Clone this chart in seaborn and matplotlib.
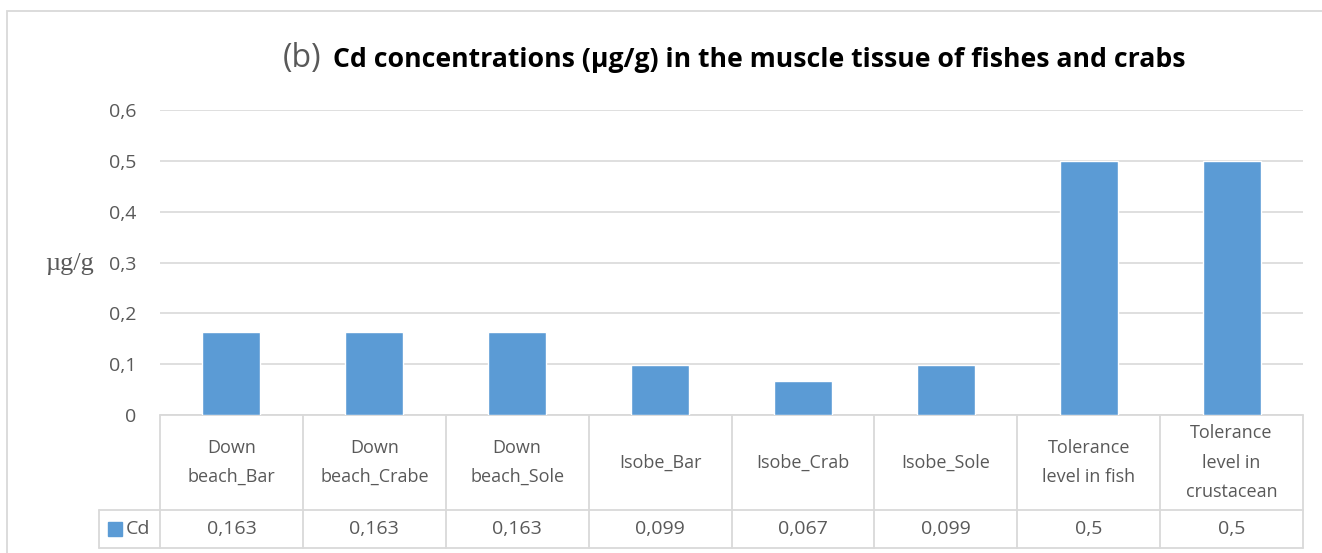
import seaborn as sns
import pandas as pd
import numpy as np
import matplotlib.pyplot as plt
from matplotlib.patches import Rectangle
from matplotlib.ticker import FuncFormatter

categories = ["Down\nbeach_Bar", "Down\nbeach_Crabe", "Down\nbeach_Sole", "Isobe_Bar",
              "Isobe_Crab", "Isobe_Sole", "Tolerance\nlevel in fish",
              "Tolerance\nlevel in\ncrustacean"]
cd_values = [0.163, 0.163, 0.163, 0.099, 0.067, 0.099, 0.5, 0.5]
y_ticks = [0, 0.1, 0.2, 0.3, 0.4, 0.5, 0.6]
series_name = "Cd"

BLUE = "#5B9BD5"
GRID = "#D9D9D9"
TXT = "#595959"
W, H = 1322, 553
FS_NUM = 14      # digits are wide in the original font
FS_CAT = 13

sns.set_theme(style="white")
plt.rcParams['font.family'] = ['Open Sans', 'DejaVu Sans']

df = pd.DataFrame({"cat": categories, "val": cd_values})

fig = plt.figure(figsize=(W / 100, H / 100), dpi=100)
# plot area in pixels: x 160..1303, y 110..415
ax = fig.add_axes([160 / W, (H - 415) / H, 1143 / W, 305 / H])

sns.barplot(data=df, x="cat", y="val", color=BLUE, width=0.406, ax=ax,
            saturation=1, zorder=3)

ax.set_ylim(0, 0.6)
ax.set_xlim(-0.5, len(categories) - 0.5)
ax.set_yticks(y_ticks)
ax.yaxis.set_major_formatter(FuncFormatter(lambda v, p: f"{v:g}".replace(".", ",")))
ax.tick_params(axis="y", length=0, pad=17, labelsize=FS_NUM, labelcolor=TXT)
ax.set_xticks([])
ax.set_xlabel("")
ax.set_ylabel("")
ax.grid(axis="y", color=GRID, linewidth=1.2, zorder=0)
for s in ax.spines.values():
    s.set_visible(False)

# data table under the axis
trans = ax.get_xaxis_transform()
row1 = -95 / 305
row2 = -133 / 305
leg_x = -0.5 - 61 / 142.875
lk = dict(color=GRID, linewidth=1.3, transform=trans, clip_on=False)
ax.plot([-0.5, len(categories) - 0.5], [0, 0], **lk)
ax.plot([leg_x, len(categories) - 0.5], [row1, row1], **lk)
ax.plot([leg_x, len(categories) - 0.5], [row2, row2], **lk)
ax.plot([leg_x, leg_x], [row1, row2], **lk)
for i in range(len(categories) + 1):
    ax.plot([i - 0.5, i - 0.5], [0, row2], **lk)

for i, (c, v) in enumerate(zip(categories, cd_values)):
    ax.text(i, row1 / 2, c, transform=trans, ha="center", va="center",
            fontsize=FS_CAT, color=TXT, linespacing=1.8)
    ax.text(i, (row1 + row2) / 2, f"{v:g}".replace(".", ","), transform=trans,
            ha="center", va="center", fontsize=FS_NUM, color=TXT)

# legend key in the table
fig.patches.append(Rectangle((108 / W, (H - 536) / H), 14 / W, 14 / H,
                             transform=fig.transFigure, color=BLUE))
fig.text(126 / W, (H - 529) / H, series_name, ha="left", va="center",
         fontsize=FS_NUM, color=TXT)

# y label
fig.text(94 / W, (H - 264) / H, "µg/g", ha="right", va="center", fontsize=19,
         color=TXT, family=["Liberation Serif"])

# title
fig.text(321 / W, (H - 67) / H, "(b)", ha="right", va="baseline", fontsize=23,
         color=TXT)
fig.text(333 / W, (H - 67) / H,
         "Cd concentrations (µg/g) in the muscle tissue of fishes and crabs",
         ha="left", va="baseline", fontsize=19.2, fontweight="bold", color="black")

# chart border
fig.patches.append(Rectangle((7 / W, -0.1), 1.5, (H - 11) / H + 0.1,
                             transform=fig.transFigure, fill=False,
                             edgecolor=GRID, linewidth=1.3))

fig.savefig("out.png", dpi=100)
